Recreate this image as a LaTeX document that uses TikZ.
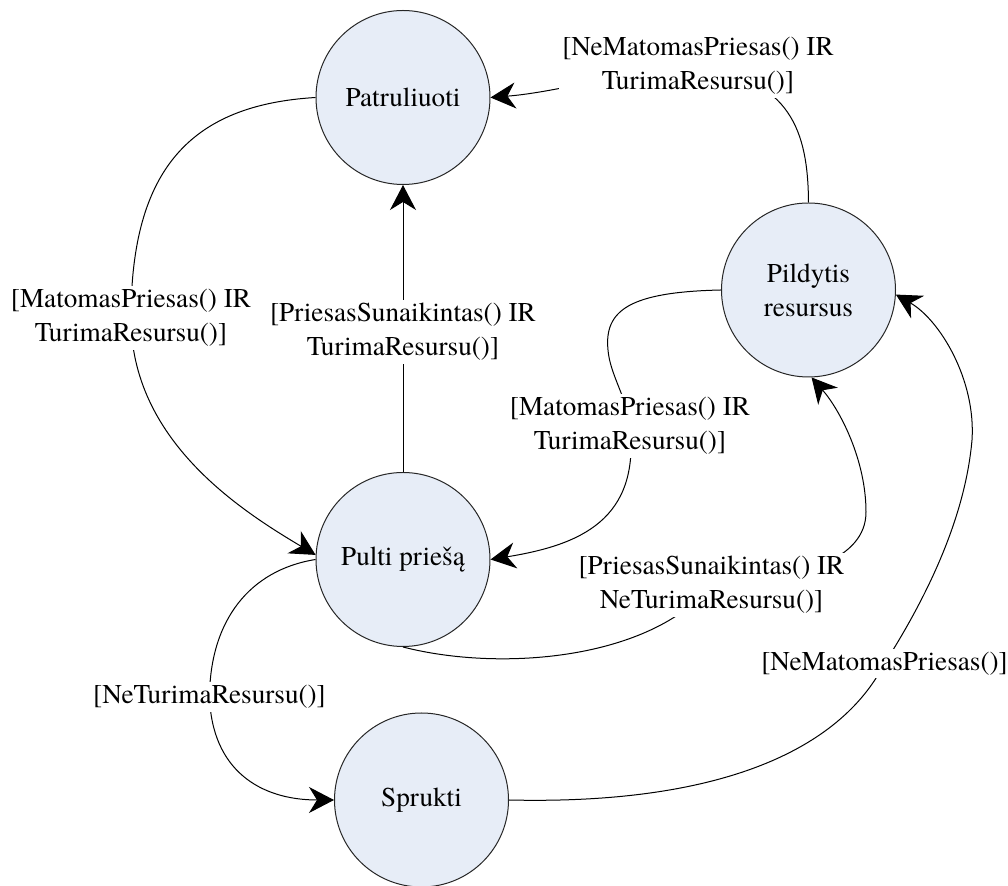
\documentclass[tikz,border=0pt]{standalone}
\usepackage{fontspec}
\setmainfont{texgyretermes}[Extension=.otf, UprightFont=*-regular]
\usetikzlibrary{arrows.meta}
\definecolor{statefill}{RGB}{231,237,247}
\begin{document}
\begin{tikzpicture}[x=0.5pt,y=-0.5pt,
  state/.style={circle, draw=black!85, line width=0.5pt, fill=statefill,
    minimum size=87pt, inner sep=0pt, align=center,
    font=\fontsize{13.6}{17}\selectfont},
  guard/.style={fill=white, inner sep=1.5pt, align=center,
    font=\fontsize{13.6}{17}\selectfont},
  trans/.style={draw=black, line width=0.5pt,
    -{Stealth[length=12.5pt,width=13pt,inset=4pt]}}]
\path[use as bounding box] (0,0) rectangle (1008,886);

% states
\node[state] (pat) at (403,97.5)  {Patruliuoti};
\node[state] (pil) at (808.5,290) {Pildytis\\resursus};
\node[state] (pul) at (403,559.5) {Pulti priešą};
\node[state] (spr) at (421.5,800) {Sprukti};

% guard positions
\coordinate (g1) at (131,318);
\coordinate (g2) at (403,332);
\coordinate (g3) at (698,66);
\coordinate (g4) at (630,426);
\coordinate (g5) at (711.5,585);
\coordinate (g6) at (209.5,697);
\coordinate (g7) at (884.5,663.5);

% transitions
\draw[trans] (pat.west) .. controls (190,105) and (131,170) .. (g1)
  .. controls (131,440) and (240,510) .. (pul.177);
\draw[trans] (pul.north) -- (pat.south);
\draw[trans] (pil.north) .. controls (808,130) and (790,80) .. (g3)
  .. controls (630,70) and (560,92) .. (pat.east);
\draw[trans] (pil.west) .. controls (630,292) and (604,310) .. (608,350)
  .. controls (610,375) and (628,400) .. (g4)
  .. controls (640,520) and (580,545) .. (pul.east);
\draw[trans] (pul.south) .. controls (500,672) and (650,660) .. (g5)
  .. controls (800,580) and (866,560) .. (866,512)
  .. controls (866,460) and (840,410) .. (pil.-88);
\draw[trans] (pul.west) .. controls (250,570) and (210,620) .. (g6)
  .. controls (212,770) and (260,800) .. (spr.west);
\draw[trans] (spr.east) .. controls (720,805) and (840,750) .. (g7)
  .. controls (925,600) and (965,520) .. (972,440)
  .. controls (976,380) and (940,320) .. (pil.-3);

% guards
\node[guard] (t1) at (g1) {[MatomasPriesas() IR\\TurimaResursu()]};
\node[guard] (t2) at (g2) {[PriesasSunaikintas() IR\\TurimaResursu()]};
\node[guard] (t3) at (g3) {[NeMatomasPriesas() IR\\TurimaResursu()]};
\node[guard] (t4) at (g4) {[MatomasPriesas() IR\\TurimaResursu()]};
\node[guard] (t5) at (g5) {[PriesasSunaikintas() IR\\NeTurimaResursu()]};
\node[guard] (t6) at (g6) {[NeTurimaResursu()]};
\node[guard] (t7) at (g7) {[NeMatomasPriesas()]};
\end{tikzpicture}
\end{document}
